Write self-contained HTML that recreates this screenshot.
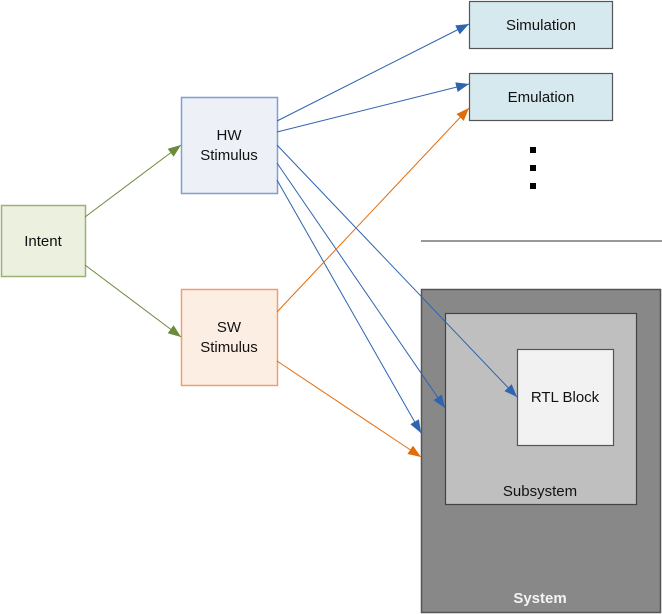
<!DOCTYPE html>
<html><head><meta charset="utf-8"><style>
html,body{margin:0;padding:0;background:#fff;}
svg{display:block;}
text{font-family:"Liberation Sans",Arial,sans-serif;font-size:15px;fill:#111;}
</style></head><body>
<svg width="662" height="614" viewBox="0 0 662 614" xmlns="http://www.w3.org/2000/svg">
<defs>
<marker id="mg" markerUnits="userSpaceOnUse" markerWidth="14" markerHeight="10" refX="13" refY="5" orient="auto"><path d="M0,0 L13,5 L0,10 z" fill="#6b8a3a"/></marker>
<marker id="mb" markerUnits="userSpaceOnUse" markerWidth="14" markerHeight="10" refX="13" refY="5" orient="auto"><path d="M0,0 L13,5 L0,10 z" fill="#2e64b0"/></marker>
<marker id="mo" markerUnits="userSpaceOnUse" markerWidth="14" markerHeight="10" refX="13" refY="5" orient="auto"><path d="M0,0 L13,5 L0,10 z" fill="#e36c0a"/></marker>
</defs>
<rect x="421.5" y="289.5" width="239" height="323" fill="#888888" stroke="#555" stroke-width="1.5"/>
<rect x="445.5" y="313.5" width="191" height="191" fill="#bfbfbf" stroke="#444" stroke-width="1.2"/>
<rect x="517.5" y="349.5" width="96" height="96" fill="#f2f2f2" stroke="#555" stroke-width="1.2"/>
<text x="565" y="402" text-anchor="middle">RTL Block</text>
<text x="540" y="496" text-anchor="middle">Subsystem</text>
<text x="540" y="603" text-anchor="middle" style="font-weight:bold;fill:#f4f4f4">System</text>
<line x1="421" y1="241" x2="662" y2="241" stroke="#777" stroke-width="1.5"/>
<rect x="1.5" y="205.5" width="84" height="71" fill="#ebf1de" stroke="#9bb07a" stroke-width="1.5"/>
<text x="43" y="246" text-anchor="middle">Intent</text>
<rect x="181.5" y="97.5" width="96" height="96" fill="#edf1f7" stroke="#7f9fcf" stroke-width="1.5"/>
<text x="229" y="140" text-anchor="middle">HW</text><text x="229" y="160" text-anchor="middle">Stimulus</text>
<rect x="181.5" y="289.5" width="96" height="96" fill="#fdeee4" stroke="#eda070" stroke-width="1.5"/>
<text x="229" y="332" text-anchor="middle">SW</text><text x="229" y="352" text-anchor="middle">Stimulus</text>
<rect x="469.5" y="1.5" width="143" height="47" fill="#d5e9ee" stroke="#555" stroke-width="1.2"/>
<text x="541" y="30" text-anchor="middle">Simulation</text>
<rect x="469.5" y="73.5" width="143" height="47" fill="#d5e9ee" stroke="#555" stroke-width="1.2"/>
<text x="541" y="102" text-anchor="middle">Emulation</text>
<rect x="530" y="147" width="6" height="6" fill="#000"/>
<rect x="530" y="165" width="6" height="6" fill="#000"/>
<rect x="530" y="183" width="6" height="6" fill="#000"/>
<g fill="none" stroke-width="1">
<line x1="85" y1="217" x2="181" y2="145" stroke="#6b8a3a" marker-end="url(#mg)"/>
<line x1="85" y1="265" x2="181" y2="337" stroke="#6b8a3a" marker-end="url(#mg)"/>
<line x1="277" y1="121" x2="469" y2="24" stroke="#2e64b0" marker-end="url(#mb)"/>
<line x1="277" y1="132" x2="469" y2="84" stroke="#2e64b0" marker-end="url(#mb)"/>
<line x1="277" y1="145" x2="517" y2="397" stroke="#2e64b0" marker-end="url(#mb)"/>
<line x1="277" y1="163" x2="445" y2="408" stroke="#2e64b0" marker-end="url(#mb)"/>
<line x1="277" y1="180" x2="421" y2="433" stroke="#2e64b0" marker-end="url(#mb)"/>
<line x1="277" y1="312" x2="469" y2="108" stroke="#e36c0a" marker-end="url(#mo)"/>
<line x1="277" y1="361" x2="421" y2="457" stroke="#e36c0a" marker-end="url(#mo)"/>
</g>
</svg>
</body></html>
